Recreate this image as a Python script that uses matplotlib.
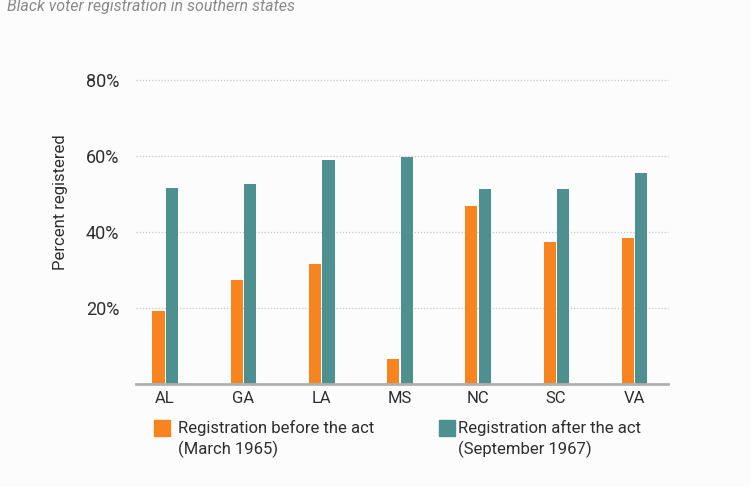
import numpy as np
import matplotlib.pyplot as plt
from matplotlib.patches import Rectangle

states = ["AL", "GA", "LA", "MS", "NC", "SC", "VA"]
before_act = [19.3, 27.4, 31.6, 6.7, 46.8, 37.3, 38.3]
after_act = [51.6, 52.6, 58.9, 59.8, 51.3, 51.2, 55.6]
yticks = [20, 40, 60, 80]

orange = "#F7841E"
teal = "#4E8F8F"
bg = "#FCFCFC"
textc = "#2e2e2e"

plt.rcParams['font.family'] = ['Roboto', 'DejaVu Sans']

fig = plt.figure(figsize=(7.51, 4.87), dpi=100, facecolor=bg)
ax = fig.add_axes([136/751, 103/487, 532/751, 304/487], facecolor=bg)

x = np.arange(len(states))
w = 0.155
ax.bar(x - 0.083, before_act, width=w, color=orange, zorder=3)
ax.bar(x + 0.09, after_act, width=w, color=teal, zorder=3)

ax.set_xlim(-0.37, 6.43)
ax.set_ylim(0, 80)
for t in yticks:
    ax.axhline(t, color="#c8c8c8", linewidth=0.9, linestyle=(0, (1, 1.5)),
               zorder=1, clip_on=False)

for s in ["top", "right", "left"]:
    ax.spines[s].set_visible(False)
ax.spines["bottom"].set_color("#b0b0b0")
ax.spines["bottom"].set_linewidth(2)
ax.spines["bottom"].set_zorder(4)

ax.set_xticks(x)
ax.set_xticklabels(states, fontsize=12, color=textc)
ax.set_yticks(yticks)
ax.set_yticklabels([f"{t}%" for t in yticks], fontsize=13, color=textc)
ax.tick_params(axis="both", length=0)
ax.tick_params(axis="x", pad=5)
ax.tick_params(axis="y", pad=12)
ax.set_ylabel("Percent registered", fontsize=12, color=textc)
ax.yaxis.set_label_coords(-0.128, 0.599)

fig.text(7/751, 1 - 7/487, "Black voter registration in southern states",
         fontsize=11.5, style="italic", color="#8a8a8a", va="center", ha="left")

# legend
fig.patches.append(Rectangle((154/751, 1 - 436/487), 16/751, 16/487,
                             transform=fig.transFigure, color=orange))
fig.text(178/751, 1 - 439/487, "Registration before the act\n(March 1965)",
         fontsize=12, color=textc, va="center", ha="left", linespacing=1.35)
fig.patches.append(Rectangle((439/751, 1 - 436/487), 16/751, 16/487,
                             transform=fig.transFigure, color=teal))
fig.text(458/751, 1 - 439/487, "Registration after the act\n(September 1967)",
         fontsize=12, color=textc, va="center", ha="left", linespacing=1.35)

fig.savefig("out.png", dpi=100, facecolor=bg)
